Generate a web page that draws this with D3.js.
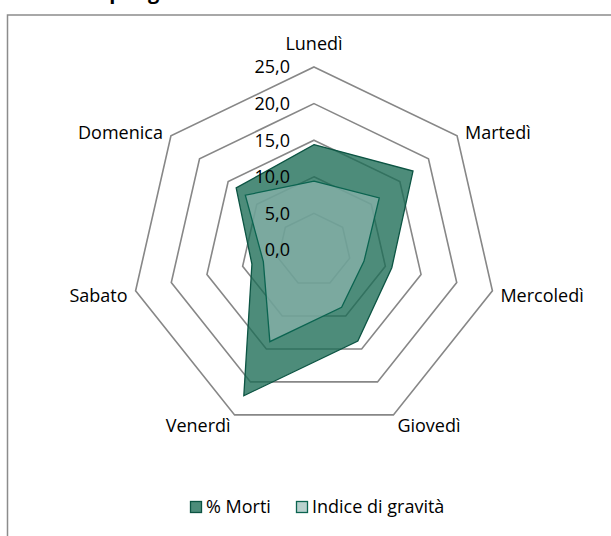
<!DOCTYPE html>
<html lang="it">
<head>
<meta charset="UTF-8">
<title>Radar giorni</title>
<script src="https://d3js.org/d3.v7.min.js"></script>
<style>
    body { margin: 0; background: #fff; }
    text { font-family: "Open Sans", sans-serif; fill: #000; }
</style>
</head>
<body>
<svg width="611" height="536"></svg>
<script>
    var giorni = ["Lunedì", "Martedì", "Mercoledì", "Giovedì", "Venerdì", "Sabato", "Domenica"];
    var morti = [14.4, 17.3, 10.9, 13.8, 22.1, 8.7, 13.6];
    var gravita = [9.4, 11.4, 7.0, 8.7, 13.9, 7.1, 12.0];
    var ticks = [0, 5, 10, 15, 20, 25];
    var serie = ["% Morti", "Indice di gravità"];

    var svg = d3.select("svg"),
        cx = 314, cy = 250;

    var it = d3.formatLocale({decimal: ",", thousands: ".", grouping: [3], currency: ["", "€"]});
    var fmt = it.format(".1f");

    var r = d3.scaleLinear().domain([0, 25]).range([0, 183]);
    var angle = d3.scalePoint().domain(d3.range(giorni.length + 1)).range([0, 2 * Math.PI]);

    // title, mostly cut off at the top
    var title = svg.append("text")
        .attr("y", -1)
        .style("font-size", "20px")
        .style("font-weight", "bold")
        .text("Vittime per giorno della settimana");
    var tmp = svg.append("text").style("font-size", "20px").style("font-weight", "bold").text("Vittime ");
    var pre = tmp.node().getComputedTextLength();
    tmp.remove();
    title.attr("x", 104 - pre);

    // chart frame
    svg.append("rect")
        .attr("x", 7.5).attr("y", 15)
        .attr("width", 700).attr("height", 600)
        .attr("fill", "none")
        .attr("stroke", "#8c8c8c")
        .attr("stroke-width", 1.5);

    var g = svg.append("g").attr("transform", "translate(" + cx + "," + cy + ")");

    var ring = d3.lineRadial()
        .angle(function (d, i) { return angle(i); })
        .curve(d3.curveLinearClosed);

    // grid rings
    g.selectAll(".ring")
        .data(ticks.slice(1))
        .enter().append("path")
        .attr("class", "ring")
        .attr("d", function (t) { return ring.radius(r(t))(giorni.map(function () { return 0; })); })
        .attr("fill", "none")
        .attr("stroke", "#878787")
        .attr("stroke-width", 1.6);

    var area = d3.lineRadial()
        .angle(function (d, i) { return angle(i); })
        .radius(function (d) { return r(d); })
        .curve(d3.curveLinearClosed);

    var stili = [
        {fill: "#1b6b55", op: 0.78, stroke: "#0c5443"},
        {fill: "#93b9b3", op: 0.65, stroke: "#0b6450"}
    ];

    [morti, gravita].forEach(function (vals, k) {
        g.append("path")
            .attr("d", area(vals))
            .attr("fill", stili[k].fill)
            .attr("fill-opacity", stili[k].op)
            .attr("stroke", stili[k].stroke)
            .attr("stroke-width", 1.3)
            .attr("stroke-linejoin", "miter");
    });

    // value axis labels
    g.selectAll(".tick")
        .data(ticks)
        .enter().append("text")
        .attr("x", -24)
        .attr("y", function (t) { return -r(t); })
        .attr("dy", "0.35em")
        .attr("text-anchor", "end")
        .style("font-size", "18px")
        .text(function (t) { return fmt(t); });

    // category labels
    g.selectAll(".cat")
        .data(giorni)
        .enter().append("text")
        .each(function (d, i) {
            var a = angle(i), s = Math.sin(a), c = Math.cos(a);
            var vx = r(25) * s, vy = -r(25) * c;
            var el = d3.select(this);
            if (Math.abs(s) < 0.1) {
                el.attr("x", vx).attr("y", vy - 23).attr("text-anchor", "middle");
            } else {
                var dx = (Math.abs(c) > 0.8 ? 4 : 8) * (s > 0 ? 1 : -1);
                var dy = c > 0 ? -3 : (c > -0.5 ? 5 : 11);
                el.attr("x", vx + dx).attr("y", vy + dy).attr("text-anchor", s > 0 ? "start" : "end");
            }
        })
        .attr("dy", "0.35em")
        .style("font-size", "18px")
        .text(function (d) { return d; });

    // legend
    var lx = [190, 296];
    var leg = svg.selectAll(".leg")
        .data(serie)
        .enter().append("g")
        .attr("transform", function (d, i) { return "translate(" + lx[i] + ",501)"; });
    leg.append("rect")
        .attr("x", 0.5).attr("y", 0.5)
        .attr("width", 11).attr("height", 11)
        .attr("fill", function (d, i) { return stili[i].fill; })
        .attr("fill-opacity", function (d, i) { return stili[i].op; })
        .attr("stroke", function (d, i) { return stili[i].stroke; })
        .attr("stroke-width", 1.3);
    leg.append("text")
        .attr("x", 16).attr("y", 6)
        .attr("dy", "0.35em")
        .style("font-size", "18px")
        .text(function (d) { return d; });
</script>
</body>
</html>
